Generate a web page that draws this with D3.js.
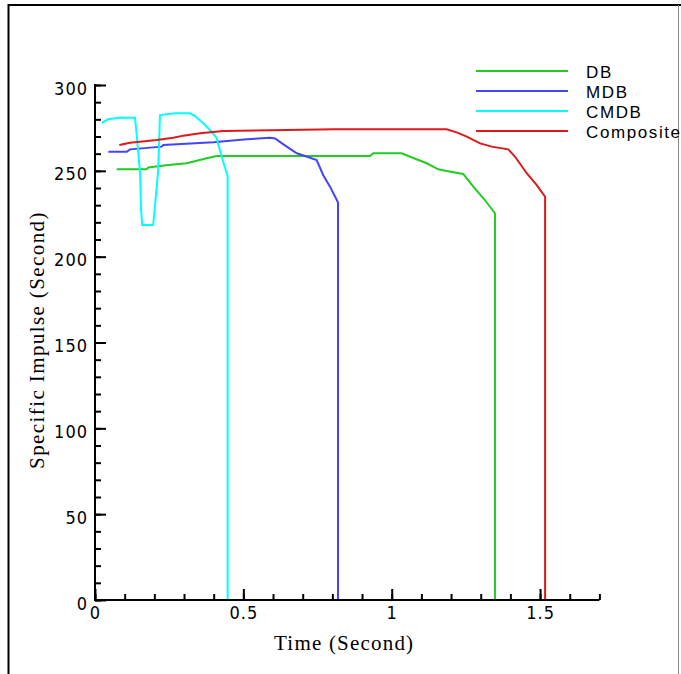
<!DOCTYPE html>
<html>
<head>
<meta charset="utf-8">
<script src="https://cdn.jsdelivr.net/npm/d3@7"></script>
<style>
  html, body { margin: 0; padding: 0; background: #fff; }
  svg { display: block; }
  .tick-label { font-family: "Liberation Sans Narrow", "DejaVu Sans Condensed", "Liberation Sans", sans-serif; font-size: 18px; letter-spacing: 1px; fill: #000; }
  .axis-title { font-family: "Liberation Serif", "DejaVu Serif", serif; font-size: 21px; fill: #000; }
  .legend-label { font-family: "Liberation Sans", Arial, sans-serif; font-size: 17px; letter-spacing: 1.6px; fill: #000; }
</style>
</head>
<body>
<script>
// Time (s) / specific impulse (s) traces for each propellant type
const dbTime   = [0.073, 0.174, 0.180, 0.247, 0.309, 0.343, 0.376, 0.410, 0.927, 0.938, 1.034, 1.062, 1.118, 1.157, 1.185, 1.241, 1.275, 1.314, 1.348, 1.348];
const dbIsp    = [250.9, 250.9, 252.0, 253.4, 254.4, 255.9, 257.3, 258.6, 258.6, 260.2, 260.2, 258.2, 254.4, 250.9, 249.9, 248.2, 240.8, 233.0, 225.3, 0];

const mdbTime  = [0.045, 0.107, 0.118, 0.225, 0.230, 0.399, 0.511, 0.590, 0.607, 0.635, 0.680, 0.725, 0.747, 0.769, 0.792, 0.815, 0.819, 0.819];
const mdbIsp   = [261.1, 261.1, 262.5, 264.1, 265.0, 266.6, 268.4, 269.3, 268.9, 265.4, 260.2, 257.6, 256.3, 247.6, 240.8, 233.0, 231.5, 0];

const cmdbTime = [0.023, 0.044, 0.082, 0.135, 0.141, 0.152, 0.155, 0.159, 0.196, 0.202, 0.213, 0.219, 0.270, 0.320, 0.337, 0.365, 0.393, 0.410, 0.427, 0.444, 0.447, 0.447];
const cmdbIsp  = [278.0, 280.0, 280.9, 280.9, 269.9, 248.6, 228.3, 218.4, 218.4, 229.1, 250.5, 282.5, 283.5, 283.5, 281.9, 277.7, 272.8, 269.0, 258.2, 248.6, 247.0, 0];

const compTime = [0.082, 0.118, 0.208, 0.264, 0.298, 0.354, 0.432, 0.809, 1.185, 1.219, 1.253, 1.298, 1.337, 1.393, 1.416, 1.455, 1.489, 1.517, 1.517];
const compIsp  = [265.0, 266.4, 268.0, 269.3, 270.5, 271.9, 273.2, 274.2, 274.2, 272.4, 269.9, 266.0, 264.1, 262.5, 258.2, 248.6, 241.7, 234.9, 0];

const seriesNames  = ["DB", "MDB", "CMDB", "Composite"];
const seriesColors = ["#22cc22", "#4444ff", "#00ffff", "#e01818"];

const xMajorTicks = [0, 0.5, 1, 1.5];
const xMajorLabels = ["0", "0.5", "1", "1.5"];
const yMajorTicks = [0, 50, 100, 150, 200, 250, 300];
const yMajorLabels = ["0", "50", "100", "150", "200", "250", "300"];

const xTitle = "Time (Second)";
const yTitle = "Specific Impulse (Second)";

const series = [
  { name: seriesNames[0], color: seriesColors[0], t: dbTime,   v: dbIsp },
  { name: seriesNames[1], color: seriesColors[1], t: mdbTime,  v: mdbIsp },
  { name: seriesNames[2], color: seriesColors[2], t: cmdbTime, v: cmdbIsp },
  { name: seriesNames[3], color: seriesColors[3], t: compTime, v: compIsp }
];

const W = 681, H = 674;
const svg = d3.select("body").append("svg").attr("width", W).attr("height", H);

const x = d3.scaleLinear().domain([0, 1.7]).range([95, 599.4]);
const y = d3.scaleLinear().domain([0, 300]).range([600, 85]);

// outer frame
svg.append("line").attr("x1", 8).attr("x2", W).attr("y1", 5).attr("y2", 5).attr("stroke", "#000").attr("stroke-width", 2);
svg.append("line").attr("x1", 8.5).attr("x2", 8.5).attr("y1", 4).attr("y2", H).attr("stroke", "#000").attr("stroke-width", 2);
svg.append("line").attr("x1", 678.5).attr("x2", 678.5).attr("y1", 5).attr("y2", H).attr("stroke", "#888").attr("stroke-width", 1);

// data lines
const line = d3.line().x(d => x(d[0])).y(d => y(d[1]));
const plot = svg.append("g");
series.forEach(s => {
  plot.append("path")
    .datum(s.t.map((t, i) => [t, s.v[i]]))
    .attr("d", line)
    .attr("fill", "none")
    .attr("stroke", s.color)
    .attr("stroke-width", 2)
    .attr("stroke-linejoin", "miter");
});

// x axis: minor ticks every 0.1, major every 0.5, pointing inward
const xMinor = d3.range(0, 17.5).map(i => i / 10).filter(v => v <= 1.7);
const gx = svg.append("g").attr("transform", "translate(0,600)");
gx.call(d3.axisBottom(x).tickValues(xMinor).tickSize(-6).tickSizeOuter(0).tickFormat(""));
gx.call(g => g.select(".domain").remove());
const gxMaj = svg.append("g").attr("transform", "translate(0,600)");
gxMaj.call(d3.axisBottom(x).tickValues(xMajorTicks).tickSize(-11).tickSizeOuter(0)
  .tickFormat((d, i) => xMajorLabels[i]));
gxMaj.call(g => g.select(".domain").remove());
gxMaj.selectAll(".tick text").attr("class", "tick-label").attr("y", 6).attr("dy", "0.71em")
  .attr("font-family", null).attr("font-size", null);

// y axis: minor ticks every 10, major every 50, pointing inward
const yMinor = d3.range(0, 31).map(i => i * 10);
const gy = svg.append("g").attr("transform", "translate(95,0)");
gy.call(d3.axisLeft(y).tickValues(yMinor).tickSize(-6).tickSizeOuter(0).tickFormat(""));
gy.call(g => g.select(".domain").remove());
const gyMaj = svg.append("g").attr("transform", "translate(95,0)");
gyMaj.call(d3.axisLeft(y).tickValues(yMajorTicks).tickSize(-11).tickSizeOuter(0)
  .tickFormat((d, i) => yMajorLabels[i]));
gyMaj.call(g => g.select(".domain").remove());
gyMaj.selectAll(".tick text").attr("class", "tick-label").attr("x", -7).attr("dy", "0.5em")
  .attr("font-family", null).attr("font-size", null);
svg.selectAll(".tick line").attr("stroke", "#000").attr("stroke-width", 2);

// axis lines
svg.append("line").attr("x1", x(0)).attr("x2", x(1.7)).attr("y1", 600).attr("y2", 600).attr("stroke", "#000").attr("stroke-width", 2);
svg.append("line").attr("x1", 95).attr("x2", 95).attr("y1", y(300) - 1).attr("y2", 601).attr("stroke", "#000").attr("stroke-width", 2);

// axis titles
svg.append("text").attr("class", "axis-title")
  .attr("x", (x(0) + x(1.7)) / 2 - 3).attr("y", 650)
  .attr("text-anchor", "middle").style("letter-spacing", "1.2px")
  .text(xTitle);
svg.append("text").attr("class", "axis-title")
  .attr("transform", "translate(44,340) rotate(-90)")
  .attr("text-anchor", "middle").style("letter-spacing", "1.4px")
  .text(yTitle);

// legend
const legend = svg.append("g");
series.forEach((s, i) => {
  const ly = 71 + i * 20;
  legend.append("line").attr("x1", 476).attr("x2", 568).attr("y1", ly).attr("y2", ly)
    .attr("stroke", s.color).attr("stroke-width", 2);
  legend.append("text").attr("class", "legend-label")
    .attr("x", 586).attr("y", ly + 7).text(s.name);
});
</script>
</body>
</html>
